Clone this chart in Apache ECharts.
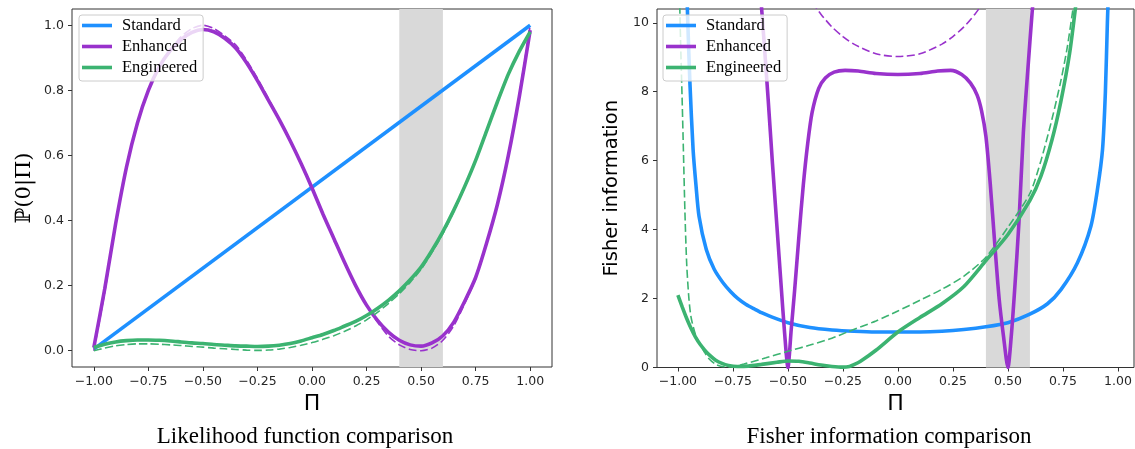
<!DOCTYPE html>
<html>
<head>
<meta charset="utf-8">
<script src="https://cdn.jsdelivr.net/npm/echarts@6/dist/echarts.min.js"></script>
<style>
  html, body { margin: 0; padding: 0; background: #fff; }
  #chart { width: 1135px; height: 449px; }
</style>
</head>
<body>
<div id="chart"></div>
<script>
// legend names
var names = ['Standard', 'Enhanced', 'Engineered'];
var colors = ['#1E90FF', '#9932CC', '#3CB371'];

// tick labels
var xTicks = [-1, -0.75, -0.5, -0.25, 0, 0.25, 0.5, 0.75, 1];
var likeTicks = [0, 0.2, 0.4, 0.6, 0.8, 1.0];
var fisherTicks = [0, 2, 4, 6, 8, 10];

// ---- likelihood panel ----
var likeX = [-1.00, -0.95, -0.90, -0.85, -0.80, -0.75, -0.70, -0.65, -0.60, -0.55, -0.50,
  -0.45, -0.40, -0.35, -0.30, -0.25, -0.20, -0.15, -0.10, -0.05, 0.00,
  0.05, 0.10, 0.15, 0.20, 0.25, 0.30, 0.35, 0.40, 0.45, 0.50,
  0.55, 0.60, 0.65, 0.70, 0.75, 0.80, 0.85, 0.90, 0.95, 1.00];

var likeStdX = [-1, 1];
var likeStd = [0.005, 1.0];

var likeEnh = [0.010, 0.190, 0.390, 0.565, 0.700, 0.800, 0.872, 0.922, 0.956, 0.978, 0.987,
  0.980, 0.960, 0.930, 0.885, 0.830, 0.770, 0.710, 0.645, 0.575, 0.500,
  0.420, 0.345, 0.270, 0.200, 0.140, 0.093, 0.057, 0.032, 0.018, 0.014,
  0.024, 0.046, 0.088, 0.152, 0.225, 0.330, 0.450, 0.600, 0.780, 0.985];
var likeEnhIdeal = [0.000, 0.180, 0.388, 0.565, 0.702, 0.802, 0.874, 0.925, 0.965, 0.990, 1.000,
  0.990, 0.968, 0.940, 0.893, 0.837, 0.775, 0.712, 0.646, 0.575, 0.500,
  0.420, 0.345, 0.270, 0.200, 0.138, 0.088, 0.045, 0.018, 0.004, 0.000,
  0.008, 0.032, 0.077, 0.145, 0.222, 0.330, 0.450, 0.600, 0.785, 1.000];

var likeEng = [0.010, 0.020, 0.027, 0.031, 0.033, 0.033, 0.032, 0.030, 0.027, 0.024, 0.022,
  0.019, 0.017, 0.015, 0.014, 0.013, 0.014, 0.017, 0.022, 0.030, 0.040,
  0.050, 0.062, 0.076, 0.090, 0.108, 0.130, 0.155, 0.184, 0.218, 0.257,
  0.308, 0.366, 0.432, 0.505, 0.585, 0.675, 0.765, 0.850, 0.920, 0.980];
var likeEngIdeal = [0.000, 0.008, 0.015, 0.019, 0.021, 0.021, 0.020, 0.018, 0.016, 0.013, 0.011,
  0.008, 0.006, 0.004, 0.002, 0.001, 0.002, 0.005, 0.010, 0.017, 0.025,
  0.035, 0.046, 0.060, 0.076, 0.095, 0.118, 0.145, 0.175, 0.210, 0.250,
  0.302, 0.360, 0.428, 0.502, 0.585, 0.676, 0.766, 0.851, 0.921, 0.980];

// ---- Fisher information panel ----
var fisherStdX = [-0.962, -0.955, -0.945, -0.931, -0.918, -0.904, -0.871, -0.835, -0.795, -0.76, -0.727, -0.69,
  -0.65, -0.62, -0.583, -0.50, -0.40, -0.30, -0.20, -0.10, 0, 0.10, 0.20, 0.30, 0.40, 0.50,
  0.597, 0.68, 0.741, 0.816, 0.877, 0.907, 0.930, 0.943, 0.952, 0.960];
var fisherStd = [11.5, 10.0, 8.2, 6.33, 5.3, 4.39, 3.42, 2.85, 2.46, 2.2, 2.0, 1.83,
  1.69, 1.59, 1.49, 1.30, 1.16, 1.09, 1.05, 1.03, 1.03, 1.03, 1.05, 1.10, 1.18, 1.30,
  1.54, 1.85, 2.26, 3.04, 4.1, 5.17, 6.33, 8.0, 10.0, 11.5];

var fisherEnhX = [-0.63, -0.61, -0.59, -0.57, -0.55, -0.53, -0.515, -0.50, -0.485, -0.47, -0.45, -0.43,
  -0.41, -0.39, -0.36, -0.33, -0.29, -0.24, -0.18, -0.10, 0, 0.10, 0.18, 0.24, 0.29, 0.33,
  0.36, 0.38, 0.40, 0.42, 0.44, 0.46, 0.48, 0.50, 0.515, 0.53, 0.55, 0.57, 0.59, 0.61, 0.63];
var fisherEnh = [11.3, 9.6, 7.8, 5.9, 4.1, 2.3, 1.0, 0.0, 1.1, 2.2, 3.8, 5.3,
  6.5, 7.4, 8.1, 8.4, 8.57, 8.62, 8.6, 8.53, 8.5, 8.53, 8.6, 8.62, 8.5, 8.25,
  7.9, 7.45, 6.7, 5.3, 3.6, 2.0, 0.9, 0.0, 0.9, 2.2, 4.2, 6.8, 8.6, 10.3, 11.8];

var fisherEnhIdealX = [-0.39, -0.35, -0.30, -0.25, -0.20, -0.10, 0, 0.10, 0.20, 0.25, 0.30, 0.35, 0.39];
var fisherEnhIdeal = [10.6, 10.25, 9.88, 9.6, 9.38, 9.1, 9.02, 9.1, 9.38, 9.6, 9.88, 10.25, 10.6];

var fisherEngX = [-1.00, -0.98, -0.96, -0.94, -0.92, -0.90, -0.88, -0.86, -0.83, -0.80, -0.77, -0.73,
  -0.68, -0.62, -0.55, -0.50, -0.45, -0.40, -0.35, -0.30, -0.25, -0.22, -0.20, -0.17, -0.10,
  0, 0.10, 0.20, 0.30, 0.40, 0.50, 0.60, 0.65, 0.70, 0.74, 0.78, 0.81];
var fisherEng = [2.1, 1.75, 1.42, 1.13, 0.88, 0.68, 0.52, 0.38, 0.22, 0.12, 0.06, 0.03,
  0.04, 0.09, 0.15, 0.19, 0.18, 0.13, 0.07, 0.03, 0.01, 0.03, 0.08, 0.18, 0.5,
  1.03, 1.45, 1.85, 2.35, 3.1, 3.86, 4.85, 5.55, 6.6, 7.7, 9.1, 10.6];

var fisherEngIdealX = [-0.995, -0.988, -0.98, -0.975, -0.968, -0.96, -0.95, -0.94, -0.92, -0.90, -0.88, -0.86,
  -0.83, -0.80, -0.75, -0.70, -0.60, -0.50, -0.40, -0.30, -0.23, -0.10, 0, 0.10, 0.20, 0.30,
  0.40, 0.50, 0.60, 0.65, 0.70, 0.74, 0.77, 0.80];
var fisherEngIdeal = [11.5, 9.5, 7.6, 6.3, 4.5, 3.0, 2.0, 1.45, 0.95, 0.68, 0.45, 0.26,
  0.10, 0.03, 0.02, 0.10, 0.28, 0.47, 0.65, 0.85, 1.03, 1.35, 1.64, 1.95, 2.27, 2.65,
  3.2, 4.07, 5.05, 6.0, 7.2, 8.3, 9.3, 10.6];

var band = [0.4, 0.6];

function zip(xs, ys) {
  return xs.map(function (x, i) { return [x, ys[i]]; });
}

function curve(name, xs, ys, color, dashed, gi) {
  return {
    name: name,
    type: 'line',
    xAxisIndex: gi,
    yAxisIndex: gi,
    data: zip(xs, ys),
    symbol: 'none',
    showSymbol: false,
    smooth: 0.25,
    clip: true,
    color: color,
    lineStyle: { color: color, width: dashed ? 1.6 : 3.6, type: dashed ? [8, 3.5] : 'solid' },
    emphasis: { disabled: true },
    z: 2
  };
}

function bandSeries(gi) {
  return {
    name: 'band' + gi,
    type: 'line',
    xAxisIndex: gi,
    yAxisIndex: gi,
    data: [],
    z: 1,
    markArea: {
      silent: true,
      itemStyle: { color: '#d9d9d9' },
      data: [[{ xAxis: band[0] }, { xAxis: band[1] }]]
    }
  };
}

var minus = '\u2212';
function fmt2(v) { return (v < 0 ? minus : '') + Math.abs(v).toFixed(2); }
function fmt1(v) { return (v < 0 ? minus : '') + Math.abs(v).toFixed(1); }

var tickFont = { fontFamily: 'DejaVu Sans', fontSize: 12.5, color: '#262626' };

function xAxisDef(gi, min, max) {
  return {
    type: 'value', gridIndex: gi, min: min, max: max,
    name: '\u03a0', nameLocation: 'middle', nameGap: 25,
    nameTextStyle: { fontFamily: 'DejaVu Sans', fontSize: 22, color: '#000' },
    axisLine: { show: false, onZero: false },
    splitLine: { show: false },
    axisTick: { show: true, length: 4, customValues: xTicks, lineStyle: { color: '#333' } },
    axisLabel: Object.assign({ customValues: xTicks, formatter: fmt2, margin: 8 }, tickFont)
  };
}

function legendDef(left) {
  return {
    data: names,
    orient: 'vertical',
    left: left, top: 15,
    icon: 'rect',
    itemWidth: 30, itemHeight: 3.6,
    itemGap: 4,
    padding: [2, 6, 5, 3],
    backgroundColor: 'rgba(255,255,255,0.8)',
    borderColor: '#cccccc', borderWidth: 1, borderRadius: 3,
    selectedMode: false,
    textStyle: { fontFamily: 'Liberation Serif', fontSize: 16.5, color: '#000', lineHeight: 17, padding: [0, 0, 0, 5] },
    z: 10
  };
}

var series = [
  bandSeries(0),
  curve('Standard', likeStdX, likeStd, colors[0], false, 0),
  curve('Enhanced', likeX, likeEnh, colors[1], false, 0),
  curve('Enhanced ideal', likeX, likeEnhIdeal, colors[1], true, 0),
  curve('Engineered', likeX, likeEng, colors[2], false, 0),
  curve('Engineered ideal', likeX, likeEngIdeal, colors[2], true, 0),
  bandSeries(1),
  curve('Standard', fisherStdX, fisherStd, colors[0], false, 1),
  curve('Enhanced', fisherEnhX, fisherEnh, colors[1], false, 1),
  curve('Enhanced ideal', fisherEnhIdealX, fisherEnhIdeal, colors[1], true, 1),
  curve('Engineered', fisherEngX, fisherEng, colors[2], false, 1),
  curve('Engineered ideal', fisherEngIdealX, fisherEngIdeal, colors[2], true, 1)
];

var chart = echarts.init(document.getElementById('chart'), null, { renderer: 'canvas' });

var option = {
  animation: false,
  backgroundColor: '#fff',
  grid: [
    { left: 72, top: 9, width: 480, height: 358, show: true, borderColor: '#333', borderWidth: 1, backgroundColor: 'transparent' },
    { left: 657, top: 9, width: 477, height: 358.5, show: true, borderColor: '#333', borderWidth: 1, backgroundColor: 'transparent' }
  ],
  xAxis: [xAxisDef(0, -1.1, 1.1), xAxisDef(1, -1.095, 1.073)],
  yAxis: [
    {
      type: 'value', gridIndex: 0, min: -0.05, max: 1.05,
      name: '\u2119(0|\u03a0)', nameLocation: 'middle', nameGap: 37, nameRotate: 90,
      nameTextStyle: { fontFamily: 'DejaVu Serif', fontSize: 21, color: '#000' },
      axisLine: { show: false, onZero: false },
      splitLine: { show: false },
      axisTick: { show: true, length: 4, customValues: likeTicks, lineStyle: { color: '#333' } },
      axisLabel: Object.assign({ customValues: likeTicks, formatter: fmt1, margin: 8 }, tickFont)
    },
    {
      type: 'value', gridIndex: 1, min: 0, max: 10.4,
      name: 'Fisher information', nameLocation: 'middle', nameGap: 35, nameRotate: 90,
      nameTextStyle: { fontFamily: 'DejaVu Sans', fontSize: 19.5, color: '#000' },
      axisLine: { show: false, onZero: false },
      splitLine: { show: false },
      axisTick: { show: true, length: 4, customValues: fisherTicks, lineStyle: { color: '#333' } },
      axisLabel: Object.assign({ customValues: fisherTicks, formatter: function (v) { return String(v); }, margin: 8 }, tickFont)
    }
  ],
  legend: [legendDef(79), legendDef(663)],
  graphic: [
    { type: 'text', x: 305, y: 437, style: { text: 'Likelihood function comparison', fill: '#000', font: '23px "Liberation Serif"', align: 'center', verticalAlign: 'middle' } },
    { type: 'text', x: 889, y: 437, style: { text: 'Fisher information comparison', fill: '#000', font: '23px "Liberation Serif"', align: 'center', verticalAlign: 'middle' } }
  ],
  series: series
};

chart.setOption(option);

window.addEventListener('resize', function () {
  chart.resize();
});
</script>
</body>
</html>
